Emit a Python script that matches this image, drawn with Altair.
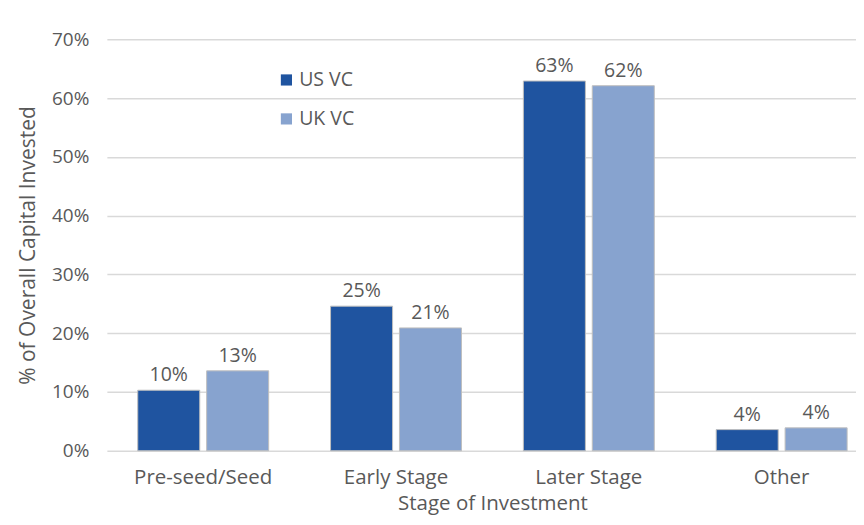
import altair as alt
import pandas as pd

stages = ["Pre-seed/Seed", "Early Stage", "Later Stage", "Other"]
us_vc = [10.3, 24.6, 62.9, 3.6]
uk_vc = [13.6, 20.9, 62.1, 3.9]
us_labels = ["10%", "25%", "63%", "4%"]
uk_labels = ["13%", "21%", "62%", "4%"]
series = ["US VC", "UK VC"]
colors = ["#1f54a0", "#87a3cf"]
y_ticks = [0, 0.1, 0.2, 0.3, 0.4, 0.5, 0.6, 0.7]

rows = []
for i, s in enumerate(stages):
    rows.append({"stage": s, "series": "US VC", "value": us_vc[i] / 100, "label": us_labels[i]})
    rows.append({"stage": s, "series": "UK VC", "value": uk_vc[i] / 100, "label": uk_labels[i]})
df = pd.DataFrame(rows)

FONT = "Open Sans"
GRAY = "#595959"

x = alt.X("stage:N", sort=stages,
          scale=alt.Scale(range=[0, 772], paddingInner=0.321, paddingOuter=0.16),
          axis=alt.Axis(title="Stage of Investment", labelAngle=0, domain=False, ticks=False,
                        labelFontSize=20.5, labelColor=GRAY, labelFont=FONT, labelPadding=17,
                        titleFontSize=20.5, titleColor=GRAY, titleFont=FONT, titleFontWeight="normal",
                        titlePadding=5))
xo = alt.XOffset("series:N", sort=series, scale=alt.Scale(paddingInner=0.1, paddingOuter=0))
y = alt.Y("value:Q", scale=alt.Scale(domain=[0, 0.7], nice=False),
          axis=alt.Axis(title="% of Overall Capital Invested", format=".0%",
                        values=y_ticks, labelOverlap=False,
                        domain=False, ticks=False, gridColor="#d9d9d9", gridWidth=1.5,
                        labelFontSize=19, labelColor=GRAY, labelFont=FONT, labelPadding=18,
                        titleFontSize=21, titleColor=GRAY, titleFont=FONT, titleFontWeight="normal",
                        titlePadding=13))

bars = alt.Chart(df).mark_bar(stroke="#bfbfbf", strokeWidth=1).encode(
    x=x, xOffset=xo, y=y,
    color=alt.Color("series:N", sort=series,
                    scale=alt.Scale(domain=series, range=colors),
                    legend=alt.Legend(title=None, orient="none", legendX=170, legendY=31,
                                      symbolType="square", symbolSize=125, symbolStrokeWidth=0,
                                      labelFontSize=19.5, labelColor=GRAY, labelFont=FONT,
                                      rowPadding=18, labelOffset=3)),
)

text = alt.Chart(df).mark_text(baseline="bottom", dy=-5, fontSize=19.5, font=FONT, color=GRAY).encode(
    x=x, xOffset=xo, y=y, text="label:N",
)

chart = (bars + text).properties(
    width=750, height=412,
    autosize=alt.AutoSizeParams(type="none"),
    padding={"left": 99, "top": 31, "right": 0, "bottom": 70},
).configure_view(stroke=None)

chart.save("out.html", embed_options={"renderer": "svg", "actions": False})
